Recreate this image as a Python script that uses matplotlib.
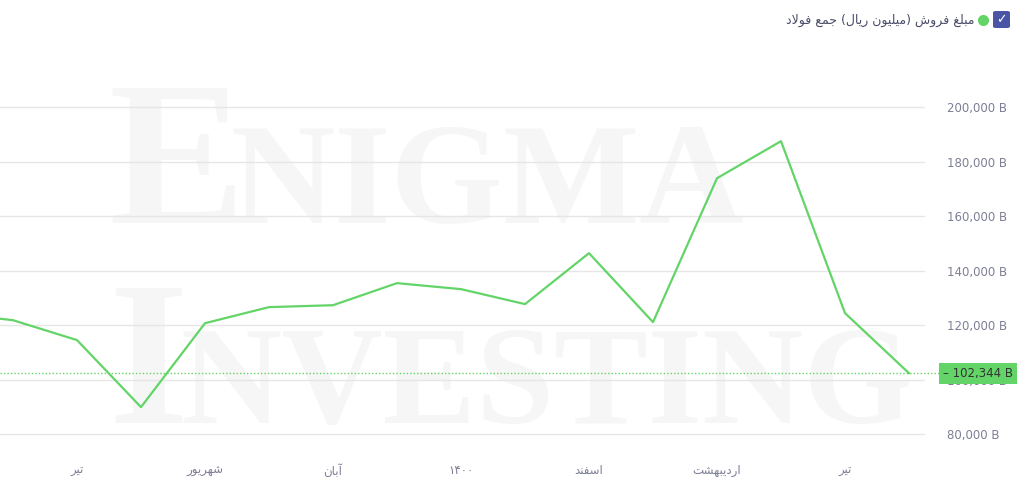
import matplotlib
matplotlib.use('Agg')
import matplotlib.pyplot as plt
import matplotlib.transforms as mtransforms
from matplotlib.patches import FancyBboxPatch
from matplotlib.lines import Line2D

# Persian forms: isolated, final, initial, medial (None = does not join forward)
FORMS = {
    'ا': ('\uFE8D', '\uFE8E', None, None),
    'آ': ('\uFE81', '\uFE82', None, None),
    'ب': ('\uFE8F', '\uFE90', '\uFE91', '\uFE92'),
    'ت': ('\uFE95', '\uFE96', '\uFE97', '\uFE98'),
    'ج': ('\uFE9D', '\uFE9E', '\uFE9F', '\uFEA0'),
    'د': ('\uFEA9', '\uFEAA', None, None),
    'ر': ('\uFEAD', '\uFEAE', None, None),
    'س': ('\uFEB1', '\uFEB2', '\uFEB3', '\uFEB4'),
    'ش': ('\uFEB5', '\uFEB6', '\uFEB7', '\uFEB8'),
    'ع': ('\uFEC9', '\uFECA', '\uFECB', '\uFECC'),
    'غ': ('\uFECD', '\uFECE', '\uFECF', '\uFED0'),
    'ف': ('\uFED1', '\uFED2', '\uFED3', '\uFED4'),
    'ل': ('\uFEDD', '\uFEDE', '\uFEDF', '\uFEE0'),
    'م': ('\uFEE1', '\uFEE2', '\uFEE3', '\uFEE4'),
    'ن': ('\uFEE5', '\uFEE6', '\uFEE7', '\uFEE8'),
    'ه': ('\uFEE9', '\uFEEA', '\uFEEB', '\uFEEC'),
    'و': ('\uFEED', '\uFEEE', None, None),
    'ی': ('\uFBFC', '\uFBFD', '\uFBFE', '\uFBFF'),
}


def fa(s):
    # small shaper: contextual forms + lam-alef, then visual (LTR) order
    out = []
    i = 0
    while i < len(s):
        c = s[i]
        if c not in FORMS:
            out.append(c)
            i += 1
            continue
        prev = s[i - 1] if i > 0 else ''
        joins_prev = prev in FORMS and FORMS[prev][2] is not None
        if c == 'ل' and i + 1 < len(s) and s[i + 1] == 'ا':
            out.append('\uFEFC' if joins_prev else '\uFEFB')
            i += 2
            continue
        nxt = s[i + 1] if i + 1 < len(s) else ''
        joins_next = FORMS[c][2] is not None and nxt in FORMS
        iso, fin, ini, med = FORMS[c]
        if joins_prev and joins_next:
            out.append(med)
        elif joins_prev:
            out.append(fin)
        elif joins_next:
            out.append(ini)
        else:
            out.append(iso)
        i += 1
    vis = ''.join(reversed(out))
    vis = vis.replace('(', '\0').replace(')', '(').replace('\0', ')')
    # keep digit runs left-to-right
    res, run = '', ''
    for ch in vis:
        if ch.isdigit():
            run += ch
        else:
            res += run[::-1] + ch
            run = ''
    return res + run[::-1]


series_name = 'مبلغ فروش (میلیون ریال) جمع فولاد'
sales = [124500, 121800, 114500, 89900, 120700, 126600, 127300, 135400,
         133200, 127700, 146400, 121100, 173900, 187500, 124400, 102344]
tick_idx = [2, 4, 6, 8, 10, 12, 14]
tick_lab = ['تیر', 'شهریور', 'آبان', '۱۴۰۰', 'اسفند', 'اردیبهشت', 'تیر']
yticks = [80000, 100000, 120000, 140000, 160000, 180000, 200000]

green = '#63d467'
gray = '#7d7f95'

fig = plt.figure(figsize=(10.24, 4.88), dpi=100)
ax = fig.add_axes([0, 1 - 445 / 488, 925 / 1024, (445 - 39) / 488])
ax.set_zorder(1)
ax.patch.set_alpha(0)

# watermark
wm = dict(family='Liberation Serif', fontweight='bold', color='#f6f6f6', zorder=-5,
          va='baseline', ha='left')
fig.text(108 / 1024, 1 - 223 / 488, 'E', fontsize=148, **wm)
fig.text(230 / 1024, 1 - 223 / 488, 'NIGMA', fontsize=104, **wm)
fig.text(108 / 1024, 1 - 423 / 488, 'I', fontsize=148, **wm)
fig.text(180 / 1024, 1 - 423 / 488, 'NVESTING', fontsize=101, **wm)

x = list(range(len(sales)))
ax.plot(x, sales, color=green, lw=1.6, zorder=3)
ax.set_xlim(51 / 64, (925 + 51) / 64)
ax.set_ylim(76000, 225000)

ax.set_yticks(yticks)
ax.set_yticklabels([f'{v:,} B' for v in yticks])
ax.yaxis.tick_right()
ax.set_xticks(tick_idx)
ax.set_xticklabels([fa(t) for t in tick_lab], family='DejaVu Sans')
ax.tick_params(length=0, colors=gray, labelsize=8.5)
ax.tick_params(axis='y', pad=16)
ax.tick_params(axis='x', pad=14)
ax.grid(axis='y', color='#e6e6e6', lw=1)
ax.set_axisbelow(True)
for sp in ax.spines.values():
    sp.set_visible(False)

# last value marker
last = sales[-1]
ax.axhline(last, xmax=940 / 925, color=green, lw=1, ls=(0, (1, 1.5)), clip_on=False, zorder=2)
tr = mtransforms.blended_transform_factory(ax.transAxes, ax.transData)
ax.text(943 / 925, last, f'– {last:,} B', transform=tr, ha='left', va='center',
        fontsize=8.5, color='#333333', zorder=5,
        bbox=dict(boxstyle='square,pad=0.35', fc=green, ec='none'))

# legend
fig.patches.append(FancyBboxPatch((993 / 1024, 1 - 28 / 488), 17 / 1024, 17 / 488,
                                  boxstyle='round,pad=0,rounding_size=0.003',
                                  transform=fig.transFigure, fc='#4b55a5', ec='none'))
fig.text(1001.5 / 1024, 1 - 19.5 / 488, '✓', color='white', fontsize=9,
         ha='center', va='center')
fig.add_artist(Line2D([983 / 1024], [1 - 20 / 488], marker='o', ms=8, color=green,
                      mec='none', transform=fig.transFigure))
fig.text(975 / 1024, 1 - 20 / 488, fa(series_name), ha='right', va='center',
         fontsize=9, color='#4a4d68', family='DejaVu Sans')

plt.savefig('out.png', dpi=100)
